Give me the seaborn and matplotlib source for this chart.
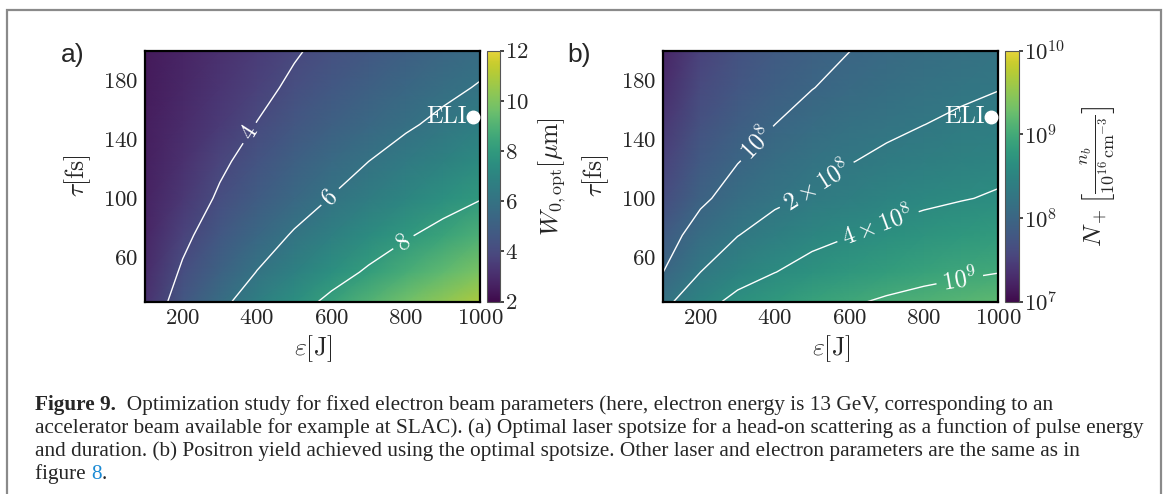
import numpy as np
import matplotlib
matplotlib.use("Agg")
import matplotlib.pyplot as plt
import seaborn as sns
from matplotlib.colors import LogNorm, Normalize, ListedColormap
from matplotlib.patches import Rectangle
from matplotlib.text import Annotation

# ---------------- data ----------------
energy_J = [100, 200, 300, 400, 500, 600, 700, 800, 900, 1000]
duration_fs = [30, 50, 75, 100, 125, 150, 175, 200]

# optimal spotsize W_0,opt [um]; rows = duration, cols = energy
spotsize_um = [
    [3.15, 4.57, 5.69, 6.65, 7.50, 8.28, 9.00, 9.67, 10.30, 10.91],
    [2.95, 4.15, 5.16, 6.03, 6.80, 7.51, 8.16, 8.77, 9.34, 9.90],
    [2.80, 3.73, 4.64, 5.42, 6.11, 6.75, 7.33, 7.88, 8.40, 8.89],
    [2.70, 3.34, 4.15, 4.85, 5.47, 6.04, 6.56, 7.05, 7.51, 7.95],
    [2.60, 3.10, 3.80, 4.44, 5.01, 5.52, 6.00, 6.45, 6.88, 7.28],
    [2.55, 2.95, 3.45, 4.03, 4.54, 5.01, 5.45, 5.86, 6.24, 6.61],
    [2.50, 2.85, 3.25, 3.71, 4.19, 4.62, 5.02, 5.40, 5.75, 6.08],
    [2.45, 2.75, 3.10, 3.50, 3.90, 4.30, 4.65, 5.00, 5.33, 5.64],
]

# positron yield N_+; rows = duration, cols = energy
positron_yield = [
    [1.57e8, 3.11e8, 4.66e8, 6.18e8, 7.71e8, 9.25e8, 1.08e9, 1.23e9, 1.38e9, 1.53e9],
    [1.00e8, 2.00e8, 2.99e8, 3.96e8, 4.94e8, 5.93e8, 6.90e8, 7.89e8, 8.85e8, 9.82e8],
    [6.62e7, 1.32e8, 1.97e8, 2.61e8, 3.26e8, 3.91e8, 4.55e8, 5.20e8, 5.83e8, 6.47e8],
    [4.38e7, 8.69e7, 1.30e8, 1.73e8, 2.15e8, 2.58e8, 3.01e8, 3.44e8, 3.85e8, 4.28e8],
    [3.30e7, 6.55e7, 9.79e7, 1.30e8, 1.62e8, 1.95e8, 2.26e8, 2.59e8, 2.90e8, 3.22e8],
    [2.54e7, 5.04e7, 7.53e7, 1.00e8, 1.25e8, 1.50e8, 1.74e8, 1.99e8, 2.23e8, 2.48e8],
    [2.00e7, 3.97e7, 5.94e7, 7.89e7, 9.84e7, 1.18e8, 1.37e8, 1.57e8, 1.76e8, 1.95e8],
    [1.68e7, 3.34e7, 5.00e7, 6.64e7, 8.28e7, 9.93e7, 1.16e8, 1.32e8, 1.48e8, 1.64e8],
]

spot_levels = [4, 6, 8]
spot_level_labels = ["4", "6", "8"]
spot_label_pos = [(388, 143), (588, 103), (789, 72)]
yield_levels = [1e8, 2e8, 4e8, 1e9]
yield_level_labels = [r"$10^8$", r"$2\times10^8$", r"$4\times10^8$", r"$10^9$"]
yield_label_pos = [(344, 139), (510, 110), (677, 81), (896, 46)]
eli_energy = 980
eli_duration = 155
x_ticks = [200, 400, 600, 800, 1000]
y_ticks = [60, 100, 140, 180]
spot_cbar_ticks = [2, 4, 6, 8, 10, 12]
yield_cbar_ticks = [1e7, 1e8, 1e9, 1e10]

caption_lines = [
    "Optimization study for fixed electron beam parameters (here, electron energy is 13 GeV, corresponding to an",
    "accelerator beam available for example at SLAC). (a) Optimal laser spotsize for a head-on scattering as a function of pulse energy",
    "and duration. (b) Positron yield achieved using the optimal spotsize. Other laser and electron parameters are the same as in",
]

# ---------------- style ----------------
sns.set_theme(style="ticks")
plt.rcParams.update({
    "font.family": "serif",
    "font.serif": ["cmr10", "DejaVu Serif"],
    "mathtext.fontset": "cm",
    "axes.formatter.use_mathtext": True,
    "axes.unicode_minus": False,
})
cmap = ListedColormap(sns.color_palette("viridis", 256, desat=0.78))

FW, FH = 1165, 494
fig = plt.figure(figsize=(FW / 100, FH / 100), dpi=100)
fig.patch.set_facecolor("white")


def fx(px):
    return px / FW


def fy(py):
    return 1 - py / FH


top_px, bot_px = 50.7, 301.7
ax_h = (bot_px - top_px) / FH
ax_a = fig.add_axes([fx(145.4), fy(bot_px), (480.3 - 145.4) / FW, ax_h])
cax_a = fig.add_axes([fx(487), fy(bot_px), 12.5 / FW, ax_h])
ax_b = fig.add_axes([fx(663.2), fy(bot_px), 335 / FW, ax_h])
cax_b = fig.add_axes([fx(1005.3), fy(bot_px), 13.6 / FW, ax_h])

E, T = np.meshgrid(energy_J, duration_fs)
Wgrid = np.array(spotsize_um)
Ngrid = np.array(positron_yield)

FS = 16.5
LFS = 18.5

mesh_a = ax_a.pcolormesh(E, T, Wgrid, cmap=cmap, norm=Normalize(2, 12), shading="gouraud")
cs_a = ax_a.contour(E, T, Wgrid, levels=spot_levels, colors="white", linewidths=1.0)
ax_a.clabel(cs_a, fmt=dict(zip(spot_levels, spot_level_labels)), fontsize=17.5,
            inline=True, inline_spacing=6, manual=spot_label_pos)

mesh_b = ax_b.pcolormesh(E, T, Ngrid, cmap=cmap, norm=LogNorm(1e7, 1e10), shading="gouraud")
cs_b = ax_b.contour(E, T, Ngrid, levels=yield_levels, colors="white", linewidths=1.0)
ax_b.clabel(cs_b, fmt=dict(zip(yield_levels, yield_level_labels)), fontsize=17.5,
            inline=True, inline_spacing=6, manual=yield_label_pos)

for ax in (ax_a, ax_b):
    ax.set_xlim(100, 1000)
    ax.set_ylim(30, 200)
    ax.set_xticks(x_ticks)
    ax.set_yticks(y_ticks)
    ax.tick_params(direction="in", color="white", length=4, width=1.2,
                   top=True, right=True, labelsize=FS, pad=5)
    for sp in ax.spines.values():
        sp.set_linewidth(1.6)
        sp.set_color("black")
    ax.set_xlabel(r"$\varepsilon[\mathrm{J}]$", fontsize=LFS, labelpad=4)
    ax.set_ylabel(r"$\tau[\mathrm{fs}]$", fontsize=LFS, labelpad=7)
    ax.plot([eli_energy], [eli_duration], "o", color="white", ms=9, clip_on=False, zorder=5)
    ax.text(eli_energy - 16, eli_duration, "ELI", color="white", fontsize=17.5,
            ha="right", va="center", zorder=5)

cb_a = fig.colorbar(mesh_a, cax=cax_a, ticks=spot_cbar_ticks)
cb_b = fig.colorbar(mesh_b, cax=cax_b, ticks=yield_cbar_ticks)
cax_b.minorticks_off()
for cb, cax in ((cb_a, cax_a), (cb_b, cax_b)):
    cb.outline.set_linewidth(0.8)
    cb.outline.set_edgecolor("#555555")
    cax.tick_params(direction="out", length=3, width=1.2, labelsize=FS, pad=0.8)
cb_a.set_label(r"$W_{0,\mathrm{opt}}[\mu\mathrm{m}]$", fontsize=LFS, labelpad=5)
cb_b.set_label(r"$N_+\left[\frac{n_b}{10^{16}\,\mathrm{cm}^{-3}}\right]$", fontsize=LFS, labelpad=9)

fig.text(fx(61), fy(62), "a)", fontsize=19, family="Liberation Sans", va="baseline")
fig.text(fx(567), fy(62), "b)", fontsize=19, family="Liberation Sans", va="baseline")

# ---------------- caption ----------------
CFS = 15.3
cap_x = fx(35)
cap_base = [410, 433, 456, 479]


def chain(prev, s, **kw):
    ann = Annotation(s, xy=(1, 0), xycoords=prev, xytext=(0, 0), textcoords="offset points",
                     va="bottom", ha="left", fontsize=CFS, family="Liberation Serif", **kw)
    fig.add_artist(ann)
    return ann


t0 = fig.text(cap_x, fy(cap_base[0]), "Figure 9.", fontsize=CFS, family="Liberation Serif",
              weight="bold", va="baseline")
chain(t0, "  " + caption_lines[0])
fig.text(cap_x, fy(cap_base[1]), caption_lines[1], fontsize=CFS, family="Liberation Serif", va="baseline")
fig.text(cap_x, fy(cap_base[2]), caption_lines[2], fontsize=CFS, family="Liberation Serif", va="baseline")
t4 = fig.text(cap_x, fy(cap_base[3]), "figure ", fontsize=CFS, family="Liberation Serif", va="baseline")
t5 = chain(t4, "8", color="#1a8ad4")
chain(t5, ".")

frame = Rectangle((fx(7), -0.1), fx(1161) - fx(7), fy(10) + 0.1, transform=fig.transFigure,
                  fill=False, edgecolor="#8a8a8a", linewidth=1.6, clip_on=False)
fig.add_artist(frame)

fig.savefig("out.png", dpi=100)
